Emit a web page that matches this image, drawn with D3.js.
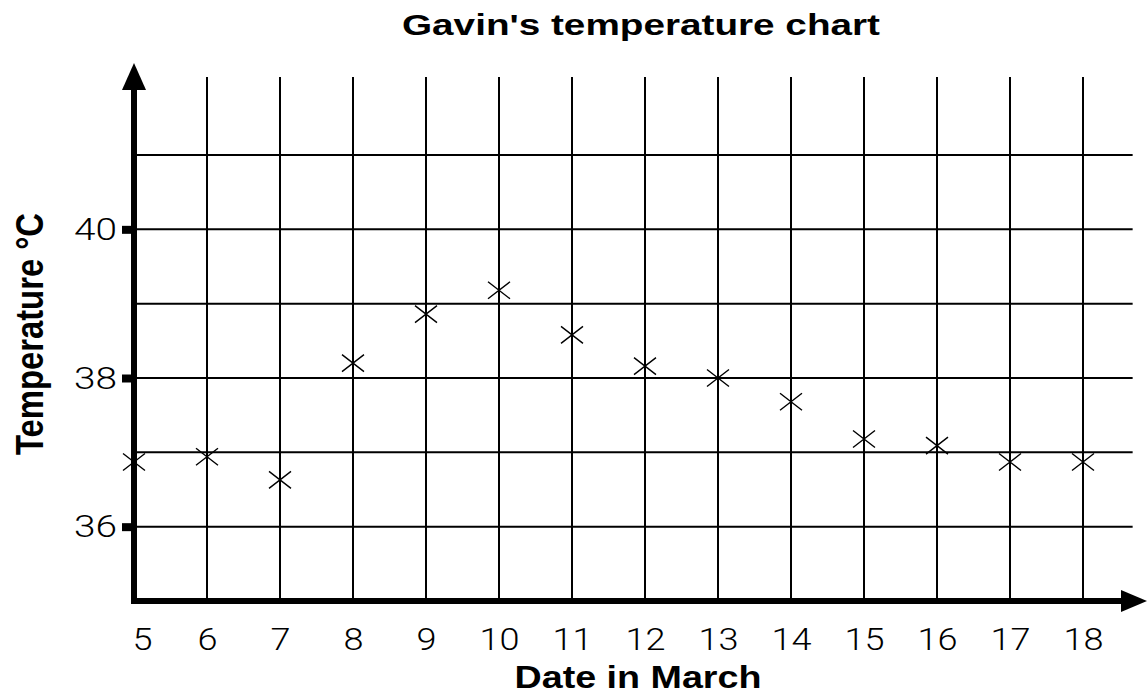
<!DOCTYPE html>
<html>
<head>
<meta charset="utf-8">
<script src="https://cdn.jsdelivr.net/npm/d3@7"></script>
<style>
  body { margin: 0; background: #fff; }
  text { font-family: "Liberation Sans", Arial, sans-serif; fill: #000; }
  .num { font-family: "Roboto", "Liberation Sans", Arial, sans-serif; font-weight: 300; }
</style>
</head>
<body>
<script>
var days = [5, 6, 7, 8, 9, 10, 11, 12, 13, 14, 15, 16, 17, 18];
var temps = [36.87, 36.94, 36.63, 38.2, 38.86, 39.18, 38.58, 38.16, 38.0, 37.68, 37.18, 37.09, 36.87, 36.87];
var yGrid = [36, 37, 38, 39, 40, 41];
var yLabels = [36, 38, 40];

var width = 1147, height = 696;

var x = d3.scaleLinear().domain([5, 18]).range([134, 1083]);
var y = d3.scaleLinear().domain([35, 41]).range([601, 155]);

var svg = d3.select('body').append('svg').attr('width', width).attr('height', height);

// grid
svg.append('g').selectAll('line').data(days.slice(1)).enter().append('line')
  .attr('x1', function (d) { return x(d); })
  .attr('x2', function (d) { return x(d); })
  .attr('y1', y(35))
  .attr('y2', y(42.05))
  .attr('stroke', '#000').attr('stroke-width', 2);

svg.append('g').selectAll('line').data(yGrid).enter().append('line')
  .attr('x1', x(5))
  .attr('x2', x(18.68))
  .attr('y1', function (d) { return y(d); })
  .attr('y2', function (d) { return y(d); })
  .attr('stroke', '#000').attr('stroke-width', 2);

// y axis ticks + labels
var yAxis = svg.append('g').attr('transform', 'translate(' + x(5) + ',0)')
  .call(d3.axisLeft(y).tickValues(yLabels).tickSize(12).tickPadding(5).tickFormat(d3.format('d')));
yAxis.select('.domain').remove();
yAxis.selectAll('.tick line').attr('stroke-width', 8);
yAxis.selectAll('.tick text').attr('class', 'num').attr('font-size', 32).attr('font-family', null)
  .attr('textLength', 43).attr('lengthAdjust', 'spacingAndGlyphs');

// x axis labels
var xAxis = svg.append('g').attr('transform', 'translate(0,' + y(35) + ')')
  .call(d3.axisBottom(x).tickValues(days).tickSize(0).tickPadding(26).tickFormat(d3.format('d')));
xAxis.select('.domain').remove();
xAxis.selectAll('.tick text').attr('class', 'num').attr('font-size', 32).attr('font-family', null)
  .attr('textLength', function (d) { return String(d).length * 20; })
  .attr('lengthAdjust', 'spacingAndGlyphs')
  .attr('dx', function (d, i) { return i === 0 ? 8 : 0; });

// main axes with arrows
svg.append('line').attr('x1', x(5)).attr('x2', x(5)).attr('y1', y(35) + 3).attr('y2', 86)
  .attr('stroke', '#000').attr('stroke-width', 6);
svg.append('path')
  .attr('d', 'M' + x(5) + ',63 L' + (x(5) + 12) + ',90 L' + (x(5) - 12) + ',90 Z')
  .attr('fill', '#000');
svg.append('line').attr('x1', x(5) - 3).attr('x2', 1125).attr('y1', y(35)).attr('y2', y(35))
  .attr('stroke', '#000').attr('stroke-width', 6);
svg.append('path')
  .attr('d', 'M1147,' + y(35) + ' L1121,' + (y(35) - 11) + ' L1121,' + (y(35) + 11) + ' Z')
  .attr('fill', '#000');

// markers
var pts = days.map(function (d, i) { return { day: d, t: temps[i] }; });
svg.append('g').selectAll('path').data(pts).enter().append('path')
  .attr('d', function (d) {
    var cx = x(d.day), cy = y(d.t), w = 11, h = 8.5;
    return 'M' + (cx - w) + ',' + (cy - h) + 'L' + (cx + w) + ',' + (cy + h) +
      'M' + (cx - w) + ',' + (cy + h) + 'L' + (cx + w) + ',' + (cy - h);
  })
  .attr('stroke', '#000').attr('stroke-width', 1.4).attr('fill', 'none');

// titles
svg.append('text').attr('x', 641).attr('y', 35).attr('text-anchor', 'middle')
  .attr('font-size', 29).attr('font-weight', 'bold')
  .attr('textLength', 478).attr('lengthAdjust', 'spacingAndGlyphs')
  .text("Gavin's temperature chart");

svg.append('text').attr('x', 638).attr('y', 688).attr('text-anchor', 'middle')
  .attr('font-size', 31).attr('font-weight', 'bold')
  .attr('textLength', 247).attr('lengthAdjust', 'spacingAndGlyphs')
  .text('Date in March');

svg.append('text')
  .attr('transform', 'translate(43,334) scale(1.35,1) rotate(-90)')
  .attr('text-anchor', 'middle')
  .attr('font-size', 29).attr('font-weight', 'bold')
  .attr('textLength', 242).attr('lengthAdjust', 'spacingAndGlyphs')
  .text('Temperature °C');
</script>
</body>
</html>
